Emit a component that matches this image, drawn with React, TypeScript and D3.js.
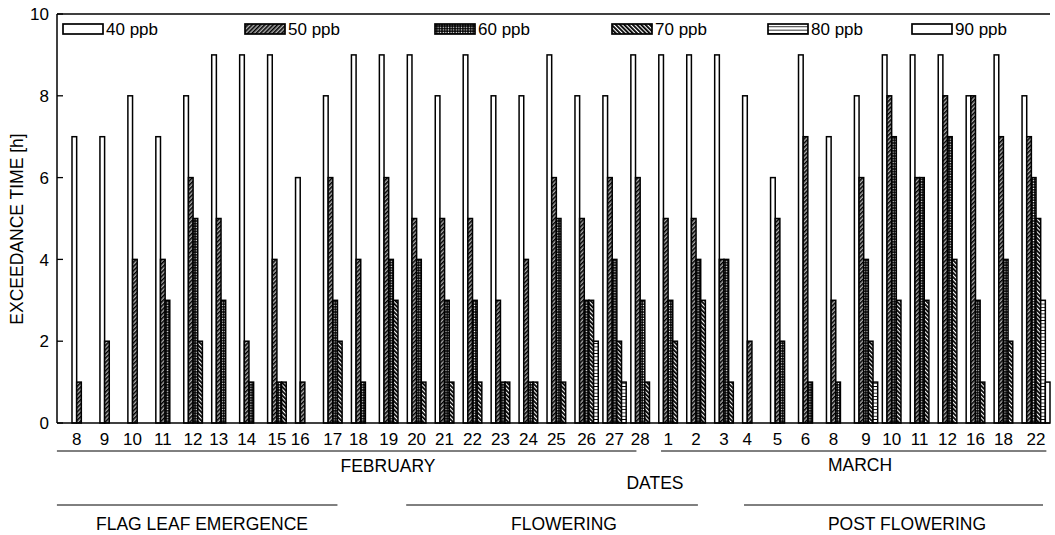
import React from "react";
import * as d3 from "d3";

const dates = ["8","9","10","11","12","13","14","15","16","17","18","19","20","21","22","23","24","25","26","27","28","1","2","3","4","5","6","8","9","10","11","12","16","18","22"];
const seriesNames = ["40 ppb","50 ppb","60 ppb","70 ppb","80 ppb","90 ppb"];
const ppb40 = [7,7,8,7,8,9,9,9,6,8,9,9,9,8,9,8,8,9,8,8,9,9,9,9,8,6,9,7,8,9,9,9,8,9,8];
const ppb50 = [1,2,4,4,6,5,2,4,1,6,4,6,5,5,5,3,4,6,5,6,6,5,5,4,2,5,7,3,6,8,6,8,8,7,7];
const ppb60 = [0,0,0,3,5,3,1,1,0,3,1,4,4,3,3,1,1,5,3,4,3,3,4,4,0,2,1,1,4,7,6,7,3,4,6];
const ppb70 = [0,0,0,0,2,0,0,1,0,2,0,3,1,1,1,1,1,1,3,2,1,2,3,1,0,0,0,0,2,3,3,4,1,2,5];
const ppb80 = [0,0,0,0,0,0,0,0,0,0,0,0,0,0,0,0,0,0,2,1,0,0,0,0,0,0,0,0,1,0,0,0,0,0,3];
const ppb90 = [0,0,0,0,0,0,0,0,0,0,0,0,0,0,0,0,0,0,0,0,0,0,0,0,0,0,0,0,0,0,0,0,0,0,1];
const yTicks = [0,2,4,6,8,10];
const months = ["FEBRUARY","MARCH"];
const phases = ["FLAG LEAF EMERGENCE","FLOWERING","POST FLOWERING"];

const FONT = "'Liberation Sans', Arial, Helvetica, sans-serif";

export default function App() {
  const W = 1055, H = 535;
  const axisX = 57, rightX = 1050, yTop = 14, yBot = 423;
  const series = [ppb40, ppb50, ppb60, ppb70, ppb80, ppb90];
  const fills = ["#fff", "url(#p50)", "url(#p60)", "url(#p70)", "url(#p80)", "#fff"];
  const band = d3.scaleBand<number>().domain(d3.range(dates.length)).range([72, rightX]).paddingInner(0).paddingOuter(0);
  const step = band.step();
  const u = (t: number) => 72 + t * step;
  const y = d3.scaleLinear().domain([0, 10]).range([yBot, yTop]);
  const bw = band.bandwidth() / series.length;

  const legendX = [63, 245, 435, 612, 768, 912];
  const monthLines = [[-0.54, 20.2], [21.08, 34.87]];
  const monthText = [[388, 472], [860, 471]];
  const phaseLines = [[-0.54, 9.5], [11.96, 22.4], [24.05, 34.75]];
  const phaseText = [202, 564, 907];

  return (
    <svg width={W} height={H} style={{ position: "absolute", left: 0, top: 0, background: "#fff" }} fontFamily={FONT}>
      <defs>
        <pattern id="p50" patternUnits="userSpaceOnUse" width="3" height="3" patternTransform="rotate(45)">
          <rect width="3" height="3" fill="#000" />
          <line x1="2.2" y1="0" x2="2.2" y2="3" stroke="#fff" strokeWidth="1" />
        </pattern>
        <pattern id="p60" patternUnits="userSpaceOnUse" width="2.6" height="2.6">
          <rect width="2.6" height="2.6" fill="#000" />
          <rect x="0.7" y="0.7" width="1.2" height="1.2" fill="#fff" />
        </pattern>
        <pattern id="p70" patternUnits="userSpaceOnUse" width="3" height="3" patternTransform="rotate(-45)">
          <rect width="3" height="3" fill="#fff" />
          <line x1="0.9" y1="0" x2="0.9" y2="3" stroke="#000" strokeWidth="1.9" />
        </pattern>
        <pattern id="p80" patternUnits="userSpaceOnUse" width="4" height="3.3">
          <rect width="4" height="3.3" fill="#fff" />
          <line x1="0" y1="0" x2="4" y2="0" stroke="#000" strokeWidth="1.7" />
        </pattern>
      </defs>

      {/* bars */}
      {dates.map((d, i) => (
        <g key={i}>
          {series.map((s, k) =>
            s[i] > 0 ? (
              <rect key={k} x={band(i)! + k * bw} y={y(s[i])} width={bw} height={yBot - y(s[i])}
                fill={fills[k]} stroke="#000" strokeWidth={1.5} />
            ) : null
          )}
        </g>
      ))}

      {/* axes frame */}
      <line x1={axisX} y1={yTop} x2={rightX} y2={yTop} stroke="#000" strokeWidth={1.5} />
      <line x1={axisX} y1={yTop} x2={axisX} y2={yBot} stroke="#000" strokeWidth={1.5} />
      <line x1={axisX} y1={yBot} x2={rightX} y2={yBot} stroke="#000" strokeWidth={1.5} />
      {yTicks.map((t) => (
        <g key={t}>
          <line x1={axisX} x2={axisX + 6} y1={y(t)} y2={y(t)} stroke="#000" strokeWidth={1.3} />
          <text x={49} y={y(t)} dy="0.36em" textAnchor="end" fontSize={17}>{t}</text>
        </g>
      ))}
      <text transform={`translate(23,${229}) rotate(-90)`} textAnchor="middle" fontSize={17.5}>EXCEEDANCE TIME [h]</text>

      {/* x tick labels */}
      {dates.map((d, i) => {
        const n = series.filter((s) => s[i] > 0).length;
        return (
          <text key={i} x={band(i)! + (n * bw) / 2} y={445} textAnchor="middle" fontSize={17}>{d}</text>
        );
      })}

      {/* month lines */}
      {monthLines.map((m, j) => (
        <line key={j} x1={u(m[0])} x2={u(m[1])} y1={451} y2={451} stroke="#000" strokeWidth={1} />
      ))}
      {months.map((m, j) => (
        <text key={m} x={monthText[j][0]} y={monthText[j][1]} textAnchor="middle" fontSize={17.5}>{m}</text>
      ))}
      <text x={655} y={489} textAnchor="middle" fontSize={17.5}>DATES</text>

      {phaseLines.map((p, j) => (
        <line key={j} x1={u(p[0])} x2={u(p[1])} y1={505} y2={505} stroke="#000" strokeWidth={1} />
      ))}
      {phases.map((p, j) => (
        <text key={p} x={phaseText[j]} y={530} textAnchor="middle" fontSize={17.5}>{p}</text>
      ))}

      {/* legend */}
      {seriesNames.map((nm, k) => (
        <g key={nm}>
          <rect x={legendX[k]} y={24} width={40} height={10} fill={fills[k]} stroke="#000" strokeWidth={1.7} />
          <text x={legendX[k] + 43} y={35} fontSize={17}>{nm}</text>
        </g>
      ))}
    </svg>
  );
}
